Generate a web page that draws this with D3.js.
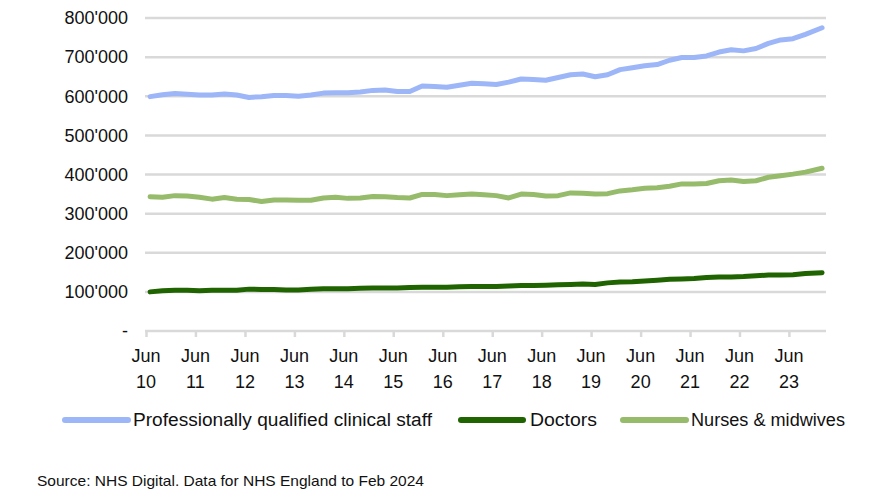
<!DOCTYPE html>
<html>
<head>
<meta charset="utf-8">
<script src="https://cdn.jsdelivr.net/npm/d3@7"></script>
<style>
  body { margin: 0; background: #fff; }
  svg { font-family: "Liberation Sans", Arial, sans-serif; }
</style>
</head>
<body>
<svg class="linechart" width="882" height="496"></svg>
<script>
// quarterly readings, Jun 2010 .. Dec 2023, then Feb 2024 (thousands)
let clinical = [599, 604, 607, 605, 603, 603, 606, 603, 597, 599, 602, 602, 600, 603, 608,
  609, 609, 611, 615, 616, 612, 612, 626, 625, 623, 628, 633, 632, 630, 636, 644, 643, 641,
  648, 655, 657, 650, 655, 668, 673, 678, 681, 692, 699, 699, 703, 713, 719, 716, 722, 735,
  744, 747, 758, 775, 786];
let doctors = [100, 103, 104, 104, 103, 104, 104, 104, 107, 106, 106, 105, 105, 107, 108,
  108, 108, 109, 110, 110, 110, 111, 112, 112, 112, 113, 114, 114, 114, 115, 116, 116, 117,
  118, 119, 120, 119, 123, 125, 126, 128, 130, 132, 133, 134, 137, 138, 138, 139, 141, 143,
  143, 144, 147, 149, 151];
let nurses = [343, 342, 346, 345, 342, 337, 341, 337, 336, 331, 335, 335, 334, 334, 340,
  342, 339, 340, 344, 343, 341, 340, 349, 349, 346, 348, 350, 348, 346, 340, 350, 349, 345,
  346, 353, 352, 350, 351, 358, 361, 365, 366, 370, 376, 376, 377, 384, 386, 382, 384, 393,
  397, 401, 406, 416, 420];

let seriesNames = ["Professionally qualified clinical staff", "Doctors", "Nurses & midwives"];
let seriesColors = ["#9db6f7", "#1f6400", "#95bb6b"];
let yTicks = [0, 100000, 200000, 300000, 400000, 500000, 600000, 700000, 800000];
let tickYears = d3.range(2010, 2024);
let sourceText = "Source: NHS Digital. Data for NHS England to Feb 2024";

let dates = d3.timeMonth.every(3).range(new Date(2010, 5, 1), new Date(2024, 0, 1));
dates.push(new Date(2024, 1, 1));

let svg = d3.select(".linechart");

let margin = { top: 18, right: 56, bottom: 165, left: 146 };
let x = d3.scaleTime()
  .domain([new Date(2010, 5, 1), new Date(2024, 2, 1)])
  .range([margin.left, 826]);
let y = d3.scaleLinear()
  .domain([0, 800000])
  .range([331, margin.top]);

// gridlines
svg.append("g").attr("class", "grid")
  .selectAll("line")
  .data(yTicks.slice(1))
  .enter().append("line")
  .attr("x1", 145).attr("x2", 826)
  .attr("y1", d => y(d)).attr("y2", d => y(d))
  .attr("stroke", "#d9d9d9")
  .attr("stroke-width", 2.5);

// y labels
let fmt = v => v === 0 ? "-" : d3.format(",")(v).replace(/,/g, "'");
svg.append("g").attr("class", "y-labels")
  .selectAll("text")
  .data(yTicks)
  .enter().append("text")
  .attr("x", 128)
  .attr("y", d => y(d))
  .attr("dy", "0.35em")
  .attr("text-anchor", "end")
  .style("font-size", "18px")
  .attr("fill", "#111")
  .text(fmt);

// x axis
let xAxis = d3.axisBottom(x)
  .tickValues(tickYears.map(yr => new Date(yr, 5, 1)))
  .tickSize(6)
  .tickSizeOuter(0)
  .tickFormat("");
let xGroup = svg.append("g").attr("id", "x-axis")
  .attr("transform", translate(0, y(0)))
  .call(xAxis);
xGroup.select(".domain").attr("stroke", "#d9d9d9").attr("stroke-width", 2.5)
  .attr("d", "M145,0H826");
xGroup.selectAll(".tick line").attr("stroke", "#d9d9d9").attr("stroke-width", 2.5);

let labels = svg.append("g").attr("class", "x-labels")
  .selectAll("g")
  .data(tickYears)
  .enter().append("g")
  .attr("transform", d => translate(x(new Date(d, 5, 1)), 0));
labels.append("text")
  .attr("y", 362).attr("text-anchor", "middle")
  .style("font-size", "18px").attr("fill", "#111")
  .text("Jun");
labels.append("text")
  .attr("y", 388).attr("text-anchor", "middle")
  .style("font-size", "18px").attr("fill", "#111")
  .text(d => String(d).slice(2));

// lines
let line = d3.line()
  .x((d, i) => x(dates[i]))
  .y(d => y(d * 1000));

[clinical, doctors, nurses].forEach(function (vals, i) {
  svg.append("path")
    .datum(vals)
    .attr("fill", "none")
    .attr("stroke", seriesColors[i])
    .attr("stroke-width", 5)
    .attr("stroke-linejoin", "round")
    .attr("stroke-linecap", "round")
    .attr("d", line);
});

// legend
let legendX = [[65, 128, 133, 299], [461, 523, 530, 67], [623, 686, 691, 154]];
legendX.forEach(function (p, i) {
  svg.append("line")
    .attr("x1", p[0]).attr("x2", p[1])
    .attr("y1", 420).attr("y2", 420)
    .attr("stroke", seriesColors[i])
    .attr("stroke-width", 6)
    .attr("stroke-linecap", "round");
  svg.append("text")
    .attr("x", p[2]).attr("y", 426)
    .style("font-size", "18px")
    .attr("fill", "#111")
    .attr("textLength", p[3])
    .attr("lengthAdjust", "spacingAndGlyphs")
    .text(seriesNames[i]);
});

svg.append("text")
  .attr("x", 37).attr("y", 486)
  .style("font-size", "15px")
  .attr("fill", "#111")
  .attr("textLength", 387)
  .attr("lengthAdjust", "spacingAndGlyphs")
  .text(sourceText);

function translate(x, y) {
  return 'translate(' + x + ',' + y + ')';
}
</script>
</body>
</html>
